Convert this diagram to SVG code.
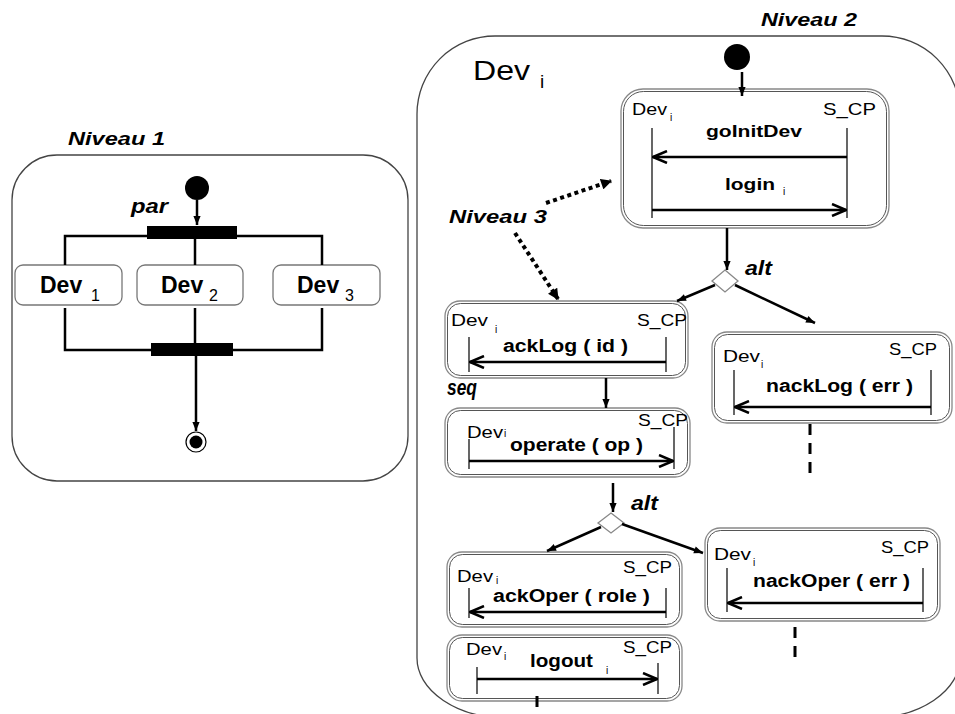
<svg xmlns="http://www.w3.org/2000/svg" width="955" height="714" viewBox="0 0 955 714">
<defs>
<style>
.t{font-family:"Liberation Sans",Arial,sans-serif;fill:#000}
.b{font-weight:bold}
.bi{font-weight:bold;font-style:italic}
.ln{stroke:#000;stroke-width:2.5;fill:none}
.fl{stroke:#000;stroke-width:2.5;fill:none;marker-end:url(#tri)}
.msg{stroke:#000;stroke-width:2.5;fill:none;marker-end:url(#vee)}
.ll{stroke:#000;stroke-width:1.2}
.bo{fill:#fff;stroke:#888;stroke-width:1.3}
.bn{fill:none;stroke:#555;stroke-width:1}
.dot{stroke:#000;stroke-width:4;stroke-dasharray:4 3.5;fill:none;marker-end:url(#tri2)}
.dash{stroke:#000;stroke-width:3;stroke-dasharray:11 8;fill:none}
.frame{fill:#fff;stroke:#444;stroke-width:1.3}
.sub{font-family:"Liberation Sans",Arial,sans-serif;fill:#000;font-size:10px}
</style>
<marker id="tri" viewBox="0 0 10 10" refX="10" refY="5" markerWidth="10" markerHeight="9" markerUnits="userSpaceOnUse" orient="auto"><path d="M0,1 L10,5 L0,9 z" fill="#000"/></marker>
<marker id="tri2" viewBox="0 0 10 10" refX="9" refY="5" markerWidth="12" markerHeight="11" markerUnits="userSpaceOnUse" orient="auto"><path d="M0,0 L10,5 L0,10 z" fill="#000"/></marker>
<marker id="vee" viewBox="0 0 16 14" refX="15" refY="7" markerWidth="16" markerHeight="14" markerUnits="userSpaceOnUse" orient="auto"><path d="M1,1 L15,7 L1,13" fill="none" stroke="#000" stroke-width="2.5"/></marker>
</defs>
<rect width="955" height="714" fill="#fff"/>

<!-- Level 1 -->
<g id="niveau1">
<path class="frame" d="M57,155 H363 A45,45 0 0 1 408,200 V436 A45,45 0 0 1 363,481 H57 A45,45 0 0 1 12,436 V200 A45,45 0 0 1 57,155 Z"/>
<text class="t bi" x="68" y="145" font-size="18" textLength="97" lengthAdjust="spacingAndGlyphs">Niveau 1</text>
<text class="t bi" x="131" y="213" font-size="20" textLength="37" lengthAdjust="spacingAndGlyphs">par</text>
</g>
<g id="start1"><circle cx="197" cy="188" r="12" fill="#000"/></g>
<g id="fork"><rect x="147" y="226" width="90" height="13" fill="#000"/></g>
<g id="join"><rect x="151" y="343" width="82" height="13" fill="#000"/></g>
<g id="dev1"><rect x="15" y="265" width="107" height="40" rx="8" fill="#fff" stroke="#777" stroke-width="1.3"/><text class="t b" x="40" y="293" font-size="23">Dev</text><text class="t" x="91" y="301" font-size="16">1</text></g>
<g id="dev2"><rect x="137" y="265" width="106" height="40" rx="8" fill="#fff" stroke="#777" stroke-width="1.3"/><text class="t b" x="161" y="293" font-size="23">Dev</text><text class="t" x="209" y="301" font-size="16">2</text></g>
<g id="dev3"><rect x="273" y="265" width="107" height="40" rx="8" fill="#fff" stroke="#777" stroke-width="1.3"/><text class="t b" x="297" y="293" font-size="23">Dev</text><text class="t" x="345" y="301" font-size="16">3</text></g>
<g id="end1"><circle cx="196" cy="442" r="10" fill="#fff" stroke="#000" stroke-width="1.2"/><circle cx="196" cy="442" r="6.5" fill="#000"/></g>

<!-- Level 2 frame -->
<g id="niveau2">
<path class="frame" d="M495,36 H882 A78,78 0 0 1 960,114 V658 A90,60 0 0 1 870,718 H507 A90,60 0 0 1 417,658 V114 A78,78 0 0 1 495,36 Z"/>
<text class="t bi" x="761" y="26" font-size="18" textLength="96" lengthAdjust="spacingAndGlyphs">Niveau 2</text>
<text class="t" x="473" y="80" font-size="28" textLength="57" lengthAdjust="spacingAndGlyphs">Dev</text>
<text class="t" x="540" y="88" font-size="19">i</text>
<text class="t bi" x="449" y="223" font-size="18" textLength="98" lengthAdjust="spacingAndGlyphs">Niveau 3</text>
</g>
<g id="start2"><circle cx="737" cy="57" r="13" fill="#000"/></g>

<g id="goInitDev">
<rect class="bo" x="621" y="89" width="268" height="139" rx="22"/>
<rect class="bn" x="623.5" y="91.5" width="263" height="134" rx="20"/>
<text class="t" x="632" y="115" font-size="17" textLength="35" lengthAdjust="spacingAndGlyphs">Dev</text>
<text class="sub" x="670" y="121">i</text>
<text class="t" x="823" y="115" font-size="17" textLength="53" lengthAdjust="spacingAndGlyphs">S_CP</text>
<line class="ll" x1="652" y1="128" x2="652" y2="218"/>
<line class="ll" x1="847" y1="128" x2="847" y2="218"/>
<text class="t b" x="706" y="137" font-size="17" textLength="96" lengthAdjust="spacingAndGlyphs">goInitDev</text>
<line class="msg" x1="847" y1="157" x2="653" y2="157"/>
<text class="t b" x="725" y="190" font-size="17" textLength="50" lengthAdjust="spacingAndGlyphs">login</text>
<text class="sub" x="783" y="195">i</text>
<line class="msg" x1="652" y1="210" x2="846" y2="210"/>
</g>

<g id="ackLog">
<rect class="bo" x="445" y="301" width="243" height="77" rx="15"/>
<rect class="bn" x="447.5" y="303.5" width="238" height="72" rx="13"/>
<text class="t" x="451" y="326" font-size="17" textLength="37" lengthAdjust="spacingAndGlyphs">Dev</text>
<text class="sub" x="495" y="333">i</text>
<text class="t" x="637" y="326" font-size="17" textLength="50" lengthAdjust="spacingAndGlyphs">S_CP</text>
<line class="ll" x1="469" y1="337" x2="469" y2="372"/>
<line class="ll" x1="666" y1="337" x2="666" y2="372"/>
<text class="t b" x="503" y="352" font-size="18" textLength="125" lengthAdjust="spacingAndGlyphs">ackLog ( id )</text>
<line class="msg" x1="666" y1="362" x2="470" y2="362"/>
</g>

<g id="operate">
<rect class="bo" x="445" y="408" width="245" height="69" rx="15"/>
<rect class="bn" x="447.5" y="410.5" width="240" height="64" rx="13"/>
<text class="t" x="467" y="438" font-size="17" textLength="36" lengthAdjust="spacingAndGlyphs">Dev</text>
<text class="sub" x="504" y="437" font-size="9">i</text>
<text class="t" x="638" y="426" font-size="17" textLength="50" lengthAdjust="spacingAndGlyphs">S_CP</text>
<line class="ll" x1="469" y1="439" x2="469" y2="469"/>
<line class="ll" x1="674" y1="427" x2="674" y2="469"/>
<text class="t b" x="510" y="451" font-size="18" textLength="133" lengthAdjust="spacingAndGlyphs">operate ( op )</text>
<line class="msg" x1="469" y1="461" x2="673" y2="461"/>
</g>

<g id="nackLog">
<rect class="bo" x="712" y="332" width="240" height="91" rx="15"/>
<rect class="bn" x="714.5" y="334.5" width="235" height="86" rx="13"/>
<text class="t" x="723" y="362" font-size="17" textLength="37" lengthAdjust="spacingAndGlyphs">Dev</text>
<text class="sub" x="761" y="368">i</text>
<text class="t" x="889" y="355" font-size="17" textLength="48" lengthAdjust="spacingAndGlyphs">S_CP</text>
<line class="ll" x1="734" y1="370" x2="734" y2="415"/>
<line class="ll" x1="931" y1="370" x2="931" y2="415"/>
<text class="t b" x="766" y="392" font-size="18" textLength="147" lengthAdjust="spacingAndGlyphs">nackLog ( err )</text>
<line class="msg" x1="931" y1="407" x2="735" y2="407"/>
</g>

<g id="ackOper">
<rect class="bo" x="447" y="552" width="235" height="75" rx="15"/>
<rect class="bn" x="449.5" y="554.5" width="230" height="70" rx="13"/>
<text class="t" x="457" y="582" font-size="17" textLength="36" lengthAdjust="spacingAndGlyphs">Dev</text>
<text class="sub" x="496" y="584" font-size="9">i</text>
<text class="t" x="623" y="573" font-size="17" textLength="49" lengthAdjust="spacingAndGlyphs">S_CP</text>
<line class="ll" x1="469" y1="588" x2="469" y2="618"/>
<line class="ll" x1="666" y1="588" x2="666" y2="618"/>
<text class="t b" x="493" y="602" font-size="18" textLength="157" lengthAdjust="spacingAndGlyphs">ackOper ( role )</text>
<line class="msg" x1="666" y1="612" x2="470" y2="612"/>
</g>

<g id="logout">
<rect class="bo" x="447" y="635" width="235" height="66" rx="15"/>
<rect class="bn" x="449.5" y="637.5" width="230" height="61" rx="13"/>
<text class="t" x="466" y="655" font-size="17" textLength="36" lengthAdjust="spacingAndGlyphs">Dev</text>
<text class="sub" x="504" y="660">i</text>
<text class="t" x="623" y="653" font-size="17" textLength="49" lengthAdjust="spacingAndGlyphs">S_CP</text>
<text class="t b" x="530" y="667" font-size="18" textLength="63" lengthAdjust="spacingAndGlyphs">logout</text>
<text class="sub" x="606" y="674">i</text>
<line class="ll" x1="477" y1="667" x2="477" y2="694"/>
<line class="ll" x1="658" y1="663" x2="658" y2="694"/>
<line class="msg" x1="477" y1="679" x2="657" y2="679"/>
</g>

<g id="nackOper">
<rect class="bo" x="705" y="528" width="235" height="93" rx="15"/>
<rect class="bn" x="707.5" y="530.5" width="230" height="88" rx="13"/>
<text class="t" x="714" y="560" font-size="17" textLength="37" lengthAdjust="spacingAndGlyphs">Dev</text>
<text class="sub" x="753" y="566">i</text>
<text class="t" x="881" y="553" font-size="17" textLength="48" lengthAdjust="spacingAndGlyphs">S_CP</text>
<line class="ll" x1="727" y1="568" x2="727" y2="612"/>
<line class="ll" x1="923" y1="568" x2="923" y2="612"/>
<text class="t b" x="753" y="587" font-size="18" textLength="157" lengthAdjust="spacingAndGlyphs">nackOper ( err )</text>
<line class="msg" x1="923" y1="603" x2="728" y2="603"/>
</g>

<g id="decision1">
<polygon points="725,270 738,281 725,292 712,281" fill="#fff" stroke="#888" stroke-width="1.3"/>
<text class="t bi" x="745" y="275" font-size="20" textLength="27" lengthAdjust="spacingAndGlyphs">alt</text>
</g>
<g id="decision2">
<polygon points="611,513 624,523 611,533 598,523" fill="#fff" stroke="#888" stroke-width="1.3"/>
<text class="t bi" x="631" y="510" font-size="20" textLength="27" lengthAdjust="spacingAndGlyphs">alt</text>
</g>
<g id="seqLabel">
<text class="t bi" x="447" y="395" font-size="22" textLength="30" lengthAdjust="spacingAndGlyphs">seq</text>
</g>

<!-- connectors -->
<g id="connectors">
<line class="fl" x1="197" y1="200" x2="197" y2="225"/>
<polyline class="ln" points="65,265 65,236 322,236 322,265"/>
<line class="ln" x1="195" y1="236" x2="195" y2="265"/>
<polyline class="ln" points="65,308 65,350 322,350 322,308"/>
<line class="ln" x1="195" y1="308" x2="195" y2="350"/>
<line class="fl" x1="196" y1="356" x2="196" y2="431"/>

<line class="fl" x1="742" y1="72" x2="742" y2="96"/>
<line class="fl" x1="727" y1="228" x2="727" y2="270"/>
<line class="fl" x1="715" y1="285" x2="677" y2="301"/>
<line class="fl" x1="735" y1="285" x2="815" y2="323"/>
<line class="fl" x1="606" y1="378" x2="606" y2="408"/>
<line class="fl" x1="613" y1="483" x2="613" y2="512"/>
<line class="fl" x1="601" y1="527" x2="547" y2="551"/>
<line class="fl" x1="622" y1="524" x2="703" y2="553"/>
<line class="dot" x1="546" y1="203" x2="611" y2="181"/>
<line class="dot" x1="515" y1="233" x2="558" y2="299"/>
<line class="dash" x1="810" y1="424" x2="810" y2="478"/>
<line class="dash" x1="795" y1="627" x2="795" y2="662"/>
<line x1="537" y1="696" x2="537" y2="707" stroke="#000" stroke-width="3"/>
</g>
</svg>
